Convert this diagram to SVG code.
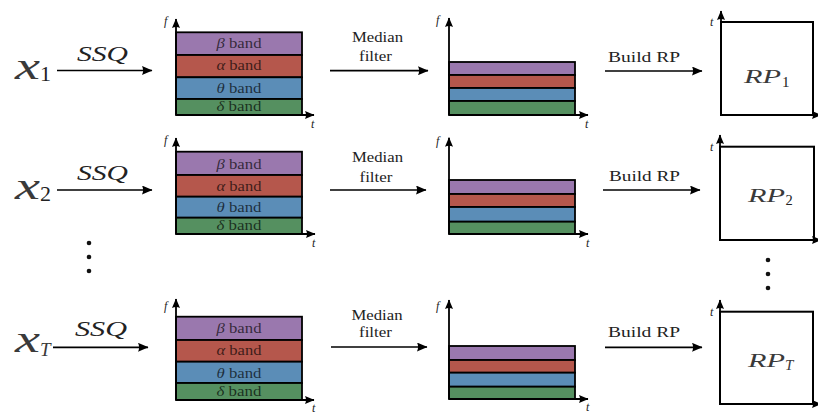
<svg xmlns="http://www.w3.org/2000/svg" width="818" height="416" viewBox="0 0 818 416">
<defs>
<marker id="ah" markerWidth="11" markerHeight="9" refX="10" refY="4.5" orient="auto" markerUnits="userSpaceOnUse">
<path d="M0,0 L10.5,4.5 L0,9 Q2.2,4.5 0,0 Z" fill="#000"/>
</marker>
<marker id="ax" markerWidth="10" markerHeight="8" refX="9" refY="4" orient="auto" markerUnits="userSpaceOnUse">
<path d="M0,0 L9.5,4 L0,8 Q2,4 0,0 Z" fill="#000"/>
</marker>
</defs>
<style>
.bg{fill:#fff}
.arr{stroke:#000;stroke-width:1.7;fill:none;marker-end:url(#ah)}
.axis{stroke:#000;stroke-width:1.8;fill:none;marker-end:url(#ax)}
.beta{fill:#9a78ae;stroke:#000;stroke-width:1.8}
.alpha{fill:#b5574c;stroke:#000;stroke-width:1.8}
.theta{fill:#5b8db7;stroke:#000;stroke-width:1.8}
.delta{fill:#559060;stroke:#000;stroke-width:1.8}
.rp{fill:#fff;stroke:#000;stroke-width:2}
.band{font-family:"Liberation Serif",serif;font-size:14.5px;fill:#000;fill-opacity:0.68;text-anchor:middle}
.gr{font-style:italic}
.lab{font-family:"Liberation Serif",serif;font-size:15px;fill:#222}
.mi{font-family:"Liberation Serif",serif;font-style:italic;fill:#222}
.lt{fill:#3a3a3a}
.num{font-family:"Liberation Serif",serif;fill:#222}
.ax{font-family:"Liberation Serif",serif;font-style:italic;font-size:12px;fill:#222}
.dot{fill:#111}
</style>
<rect class="bg" x="0" y="0" width="818" height="416"/>

<!-- Row 1 -->
<g id="x1">
<text class="mi lt" x="15" y="78.5" font-size="38" textLength="25" lengthAdjust="spacingAndGlyphs">x</text>
<text class="num lt" x="40" y="80.5" font-size="22">1</text>
</g>
<g id="spectrum1">
<rect class="beta" x="176" y="32.3" width="126" height="22.7"/>
<rect class="alpha" x="176" y="55" width="126" height="22.3"/>
<rect class="theta" x="176" y="77.3" width="126" height="21.7"/>
<rect class="delta" x="176" y="99" width="126" height="16"/>
<text class="band" x="239" y="48.3" textLength="45" lengthAdjust="spacingAndGlyphs"><tspan class="gr">β</tspan> band</text>
<text class="band" x="239" y="70" textLength="45" lengthAdjust="spacingAndGlyphs"><tspan class="gr">α</tspan> band</text>
<text class="band" x="239" y="92.5" textLength="45" lengthAdjust="spacingAndGlyphs"><tspan class="gr">θ</tspan> band</text>
<text class="band" x="239" y="111" textLength="45" lengthAdjust="spacingAndGlyphs"><tspan class="gr">δ</tspan> band</text>
<line class="axis" x1="176" y1="115" x2="176" y2="19"/>
<line class="axis" x1="176" y1="115" x2="314" y2="115"/>
<text class="ax" x="164" y="25">f</text>
<text class="ax" x="311" y="128">t</text>
</g>
<g id="filtered1">
<rect class="beta" x="449" y="62" width="126" height="13"/>
<rect class="alpha" x="449" y="75" width="126" height="13"/>
<rect class="theta" x="449" y="88" width="126" height="13"/>
<rect class="delta" x="449" y="101" width="126" height="14"/>
<line class="axis" x1="449" y1="115" x2="449" y2="18"/>
<line class="axis" x1="449" y1="115" x2="588" y2="115"/>
<text class="ax" x="436" y="24">f</text>
<text class="ax" x="585" y="128">t</text>
</g>
<g id="rp1">
<rect class="rp" x="721" y="22" width="92" height="93"/>
<line class="axis" x1="721" y1="115" x2="721" y2="11"/>
<line class="axis" x1="721" y1="115" x2="821" y2="115"/>
<text class="ax" x="710" y="26" font-size="10">t</text>
<text class="mi lt" x="744" y="83.3" font-size="19" textLength="37" lengthAdjust="spacingAndGlyphs">RP</text>
<text class="num lt" x="782" y="86.5" font-size="15">1</text>
</g>

<!-- Row 2 -->
<g id="x2">
<text class="mi lt" x="15" y="198.5" font-size="38" textLength="25" lengthAdjust="spacingAndGlyphs">x</text>
<text class="num lt" x="40" y="200.5" font-size="22">2</text>
</g>
<g id="spectrum2">
<rect class="beta" x="176" y="151.7" width="126" height="23.3"/>
<rect class="alpha" x="176" y="175" width="126" height="21.7"/>
<rect class="theta" x="176" y="196.7" width="126" height="21"/>
<rect class="delta" x="176" y="217.7" width="126" height="16.3"/>
<text class="band" x="239" y="169" textLength="45" lengthAdjust="spacingAndGlyphs"><tspan class="gr">β</tspan> band</text>
<text class="band" x="239" y="190.5" textLength="45" lengthAdjust="spacingAndGlyphs"><tspan class="gr">α</tspan> band</text>
<text class="band" x="239" y="212.3" textLength="45" lengthAdjust="spacingAndGlyphs"><tspan class="gr">θ</tspan> band</text>
<text class="band" x="239" y="230" textLength="45" lengthAdjust="spacingAndGlyphs"><tspan class="gr">δ</tspan> band</text>
<line class="axis" x1="176" y1="234" x2="176" y2="138"/>
<line class="axis" x1="176" y1="234" x2="315" y2="234"/>
<text class="ax" x="164" y="144">f</text>
<text class="ax" x="312" y="247">t</text>
</g>
<g id="filtered2">
<rect class="beta" x="449" y="180" width="126" height="14"/>
<rect class="alpha" x="449" y="194" width="126" height="13"/>
<rect class="theta" x="449" y="207" width="126" height="14.7"/>
<rect class="delta" x="449" y="221.7" width="126" height="12.3"/>
<line class="axis" x1="449" y1="234" x2="449" y2="137.7"/>
<line class="axis" x1="449" y1="234" x2="588" y2="234"/>
<text class="ax" x="436" y="145">f</text>
<text class="ax" x="586" y="247">t</text>
</g>
<g id="rp2">
<rect class="rp" x="720" y="146.7" width="94" height="93.3"/>
<line class="axis" x1="720" y1="240" x2="720" y2="135"/>
<line class="axis" x1="720" y1="240" x2="821" y2="240"/>
<text class="ax" x="710" y="151" font-size="10">t</text>
<text class="mi lt" x="748" y="202.3" font-size="19" textLength="37" lengthAdjust="spacingAndGlyphs">RP</text>
<text class="num lt" x="785.5" y="204.5" font-size="14.5">2</text>
</g>

<g id="ellipsis-left">
<circle class="dot" cx="89" cy="243" r="2.3"/>
<circle class="dot" cx="89" cy="257" r="2.3"/>
<circle class="dot" cx="89" cy="271" r="2.3"/>
</g>
<g id="ellipsis-right">
<circle class="dot" cx="768" cy="260" r="2.3"/>
<circle class="dot" cx="768" cy="274" r="2.3"/>
<circle class="dot" cx="768" cy="288" r="2.3"/>
</g>

<!-- Row 3 -->
<g id="xT">
<text class="mi lt" x="15" y="351.5" font-size="38" textLength="25" lengthAdjust="spacingAndGlyphs">x</text>
<text class="mi lt" x="40" y="355.5" font-size="19">T</text>
</g>
<g id="spectrumT">
<rect class="beta" x="176" y="316.7" width="126" height="23.3"/>
<rect class="alpha" x="176" y="340" width="126" height="21.7"/>
<rect class="theta" x="176" y="361.7" width="126" height="21.3"/>
<rect class="delta" x="176" y="383" width="126" height="17"/>
<text class="band" x="239" y="333.3" textLength="45" lengthAdjust="spacingAndGlyphs"><tspan class="gr">β</tspan> band</text>
<text class="band" x="239" y="355" textLength="45" lengthAdjust="spacingAndGlyphs"><tspan class="gr">α</tspan> band</text>
<text class="band" x="239" y="377.7" textLength="45" lengthAdjust="spacingAndGlyphs"><tspan class="gr">θ</tspan> band</text>
<text class="band" x="239" y="396" textLength="45" lengthAdjust="spacingAndGlyphs"><tspan class="gr">δ</tspan> band</text>
<line class="axis" x1="176" y1="400" x2="176" y2="299"/>
<line class="axis" x1="176" y1="400" x2="314" y2="400"/>
<text class="ax" x="164" y="310">f</text>
<text class="ax" x="312" y="412">t</text>
</g>
<g id="filteredT">
<rect class="beta" x="449" y="346" width="126" height="14"/>
<rect class="alpha" x="449" y="360" width="126" height="12.7"/>
<rect class="theta" x="449" y="372.7" width="126" height="14"/>
<rect class="delta" x="449" y="386.7" width="126" height="12.3"/>
<line class="axis" x1="449" y1="399" x2="449" y2="300"/>
<line class="axis" x1="449" y1="399" x2="588" y2="399"/>
<text class="ax" x="436" y="310">f</text>
<text class="ax" x="586" y="411">t</text>
</g>
<g id="rpT">
<rect class="rp" x="720" y="311.7" width="93" height="92.3"/>
<line class="axis" x1="720" y1="404" x2="720" y2="300"/>
<line class="axis" x1="720" y1="404" x2="821" y2="404"/>
<text class="ax" x="710" y="316" font-size="10">t</text>
<text class="mi lt" x="748" y="366.7" font-size="19" textLength="37" lengthAdjust="spacingAndGlyphs">RP</text>
<text class="mi lt" x="785" y="370" font-size="15">T</text>
</g>

<g id="connectors">
<line class="arr" x1="57" y1="70.5" x2="152" y2="70.5"/>
<text class="mi" x="77" y="60.5" font-size="21" textLength="51" lengthAdjust="spacingAndGlyphs">SSQ</text>
<line class="arr" x1="330" y1="70.7" x2="428" y2="70.7"/>
<text class="lab" x="352" y="41.7" textLength="51" lengthAdjust="spacingAndGlyphs">Median</text>
<text class="lab" x="359" y="61" textLength="33" lengthAdjust="spacingAndGlyphs">filter</text>
<line class="arr" x1="605" y1="71" x2="702" y2="71"/>
<text class="lab" x="608" y="62.3" font-size="16" textLength="72" lengthAdjust="spacingAndGlyphs">Build RP</text>

<line class="arr" x1="57" y1="190" x2="152" y2="190"/>
<text class="mi" x="77" y="180" font-size="21" textLength="51" lengthAdjust="spacingAndGlyphs">SSQ</text>
<line class="arr" x1="330" y1="190" x2="426" y2="190"/>
<text class="lab" x="352" y="162.3" textLength="51" lengthAdjust="spacingAndGlyphs">Median</text>
<text class="lab" x="359.5" y="181.7" textLength="33" lengthAdjust="spacingAndGlyphs">filter</text>
<line class="arr" x1="603" y1="190" x2="700" y2="190"/>
<text class="lab" x="609" y="180.7" font-size="16" textLength="71" lengthAdjust="spacingAndGlyphs">Build RP</text>

<line class="arr" x1="53" y1="347.3" x2="148" y2="347.3"/>
<text class="mi" x="75" y="336" font-size="21" textLength="52" lengthAdjust="spacingAndGlyphs">SSQ</text>
<line class="arr" x1="331" y1="347" x2="427" y2="347"/>
<text class="lab" x="351.5" y="320" textLength="51" lengthAdjust="spacingAndGlyphs">Median</text>
<text class="lab" x="359" y="337.3" textLength="33" lengthAdjust="spacingAndGlyphs">filter</text>
<line class="arr" x1="605" y1="347.3" x2="702" y2="347.3"/>
<text class="lab" x="608" y="336.7" font-size="16" textLength="72" lengthAdjust="spacingAndGlyphs">Build RP</text>
</g>
</svg>
